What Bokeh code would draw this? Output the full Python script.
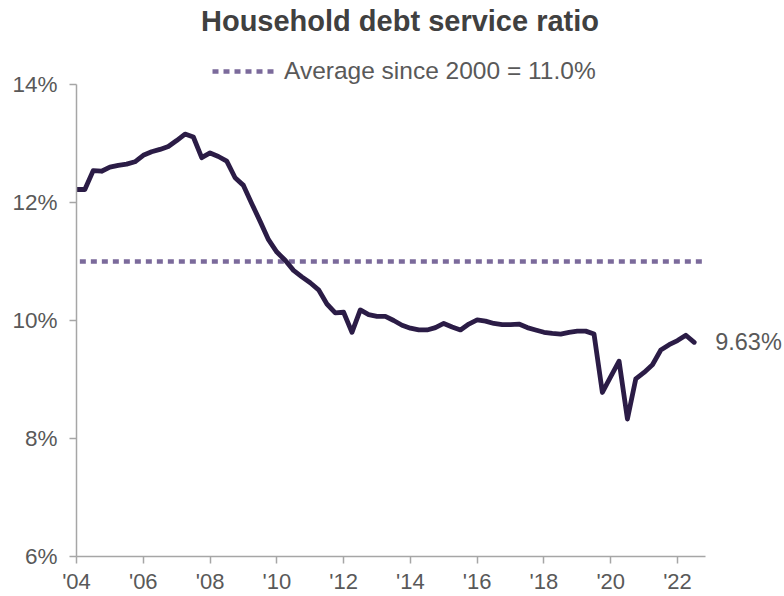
from bokeh.plotting import figure
from bokeh.models import (Range1d, FixedTicker, Label, Legend, LegendItem,
                          NumeralTickFormatter)
from bokeh.embed import file_html
from bokeh.resources import INLINE

# ---- data -------------------------------------------------------------
start_year = 2004.0
dsr = [12.22, 12.22, 12.54, 12.53, 12.60, 12.63, 12.65, 12.69,
       12.80, 12.86, 12.90, 12.95, 13.05, 13.16, 13.11, 12.76,
       12.84, 12.78, 12.70, 12.42, 12.29, 11.98, 11.68, 11.37,
       11.16, 11.02, 10.85, 10.74, 10.64, 10.52, 10.28, 10.13,
       10.14, 9.80, 10.18, 10.10, 10.07, 10.07, 10.00, 9.92,
       9.87, 9.84, 9.84, 9.88, 9.95, 9.89, 9.84, 9.94,
       10.01, 9.99, 9.95, 9.93, 9.93, 9.94, 9.88, 9.84,
       9.80, 9.78, 9.77, 9.80, 9.82, 9.82, 9.77, 8.78,
       9.05, 9.31, 8.33, 9.01, 9.12, 9.25, 9.50, 9.59,
       9.66, 9.75, 9.63]
quarters = [start_year + 0.25 * i for i in range(len(dsr))]

average_value = 11.0
average_span = [2004.1, 2022.8]

x_tick_years = [2004, 2006, 2008, 2010, 2012, 2014, 2016, 2018, 2020, 2022]
x_tick_labels = ["'04", "'06", "'08", "'10", "'12", "'14", "'16", "'18", "'20", "'22"]
y_ticks = [6, 8, 10, 12, 14]

title_text = "Household debt service ratio"
legend_text = "Average since 2000 = 11.0%"

# ---- figure -----------------------------------------------------------
W, H = 784, 596
left, bottom_border = 76, 40
px_per_year = 601 / 18.0
px_per_pct = 59.0
frame_w = W - left
frame_h = H - bottom_border

p = figure(width=W, height=H, output_backend="svg", toolbar_location=None,
           x_range=Range1d(2004, 2004 + frame_w / px_per_year),
           y_range=Range1d(6, 6 + frame_h / px_per_pct),
           min_border_left=left, min_border_right=0,
           min_border_top=0, min_border_bottom=bottom_border)
p.outline_line_color = None
p.xgrid.visible = False
p.ygrid.visible = False
p.background_fill_color = "white"
p.border_fill_color = "white"

axis_color = "#A6A6A6"
text_color = "#595959"
font = "Liberation Sans"

for ax in (p.xaxis[0], p.yaxis[0]):
    ax.axis_line_color = axis_color
    ax.axis_line_width = 1.5
    ax.major_tick_line_color = axis_color
    ax.major_tick_line_width = 1.5
    ax.major_tick_in = 0
    ax.major_tick_out = 7
    ax.minor_tick_line_color = None
    ax.major_label_text_color = text_color
    ax.major_label_text_font = font
    ax.major_label_text_font_size = "22px"

p.yaxis.major_label_text_font_size = "22.5px"

p.xaxis.bounds = (2004, 2022.85)
p.xaxis.ticker = FixedTicker(ticks=x_tick_years)
p.xaxis.major_label_overrides = {y: l for y, l in zip(x_tick_years, x_tick_labels)}
p.xaxis.major_label_standoff = 5

p.yaxis.bounds = (6, 14)
p.yaxis.ticker = FixedTicker(ticks=y_ticks)
p.yaxis.formatter = NumeralTickFormatter(format="0")
p.yaxis.major_label_overrides = {t: f"{t}%" for t in y_ticks}
p.yaxis.major_label_standoff = 12

# average line
avg = p.line(average_span, [average_value, average_value],
             line_color="#7B6A9B", line_width=4.5, line_dash="6 5")

# main series
p.line(quarters, dsr, line_color="#2B1C46", line_width=4.8,
       line_join="round", line_cap="round")

# end label
p.add_layout(Label(x=quarters[-1], y=dsr[-1], text=f"{dsr[-1]:.2f}%",
                   x_offset=21, text_baseline="middle", text_align="left",
                   text_color=text_color, text_font=font,
                   text_font_size="23.5px"))

# title
p.add_layout(Label(x=2004 + (400 - 76.5) / px_per_year,
                   y=6 + (frame_h - 20) / px_per_pct,
                   text=title_text, text_align="center", text_baseline="middle",
                   text_color="#404040", text_font=font,
                   text_font_size="29px", text_font_style="bold"))

# legend
legend = Legend(items=[LegendItem(label=legend_text, renderers=[avg])],
                location=(136, 471), orientation="horizontal",
                padding=0, margin=0, spacing=0,
                glyph_width=62, glyph_height=20, label_standoff=10,
                border_line_color=None, background_fill_alpha=0,
                label_text_font=font, label_text_font_size="24.5px",
                label_text_color=text_color)
p.add_layout(legend, "center")

open("out.html", "w").write(file_html(p, INLINE))
